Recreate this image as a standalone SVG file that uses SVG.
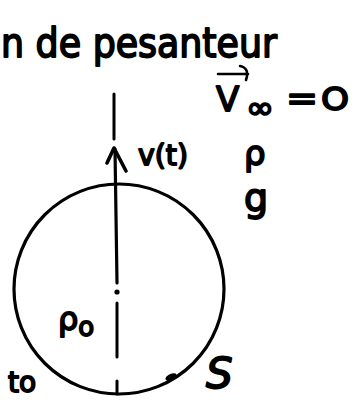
<svg xmlns="http://www.w3.org/2000/svg" width="364" height="400" viewBox="0 0 364 400">
<style>
.t{font-family:"DejaVu Sans","Noto Sans",sans-serif;fill:#000;stroke:#000;stroke-width:1.8;stroke-linejoin:round}
.s{fill:none;stroke:#000;stroke-linecap:round;stroke-linejoin:round}
</style>
<rect width="364" height="400" fill="#fff"/>
<g id="title"><text class="t" x="1" y="57" font-size="40" textLength="276" lengthAdjust="spacingAndGlyphs">n de pesanteur</text></g>
<g id="sphere">
<circle class="s" cx="119" cy="289" r="105" stroke-width="3.2"/>
<ellipse cx="171" cy="377" rx="6" ry="3" transform="rotate(-25 171 377)" fill="#000"/>
</g>
<g id="axis">
<line class="s" x1="114" y1="94" x2="114" y2="139" stroke-width="3"/>
<line class="s" x1="115" y1="149" x2="117" y2="283" stroke-width="3.2"/>
<path class="s" d="M107 163 L114 148 L126 171" stroke-width="3.6"/>
<circle cx="117" cy="292" r="2.6" fill="#000"/>
<line class="s" x1="117" y1="303" x2="117" y2="357" stroke-width="3"/>
<line class="s" x1="117" y1="381" x2="117" y2="394" stroke-width="3"/>
</g>
<g id="labels">
<text class="t" x="138" y="165" font-size="28" textLength="50" lengthAdjust="spacingAndGlyphs">v(t)</text>
<path class="s" d="M218 74 L248 74 M240 66 Q250 68 246 80" stroke-width="2.6"/>
<text class="t" x="216" y="111" font-size="34">V</text>
<text class="t" x="246" y="118" font-size="30" textLength="28" lengthAdjust="spacingAndGlyphs">∞</text>
<text class="t" x="286" y="110" font-size="34" textLength="32" lengthAdjust="spacingAndGlyphs">=</text>
<text class="t" x="321" y="110" font-size="32" textLength="28" lengthAdjust="spacingAndGlyphs">O</text>
<text class="t" x="244" y="165" font-size="34">ρ</text>
<text class="t" x="244" y="211" font-size="38">g</text>
<text class="t" x="58" y="330" font-size="32">ρ<tspan dy="6" font-size="26">o</tspan></text>
<text class="t" x="206" y="388" font-size="42" font-style="italic" font-family="Liberation Serif,serif">S</text>
<text class="t" x="8" y="392" font-size="28">to</text>
</g>
</svg>
